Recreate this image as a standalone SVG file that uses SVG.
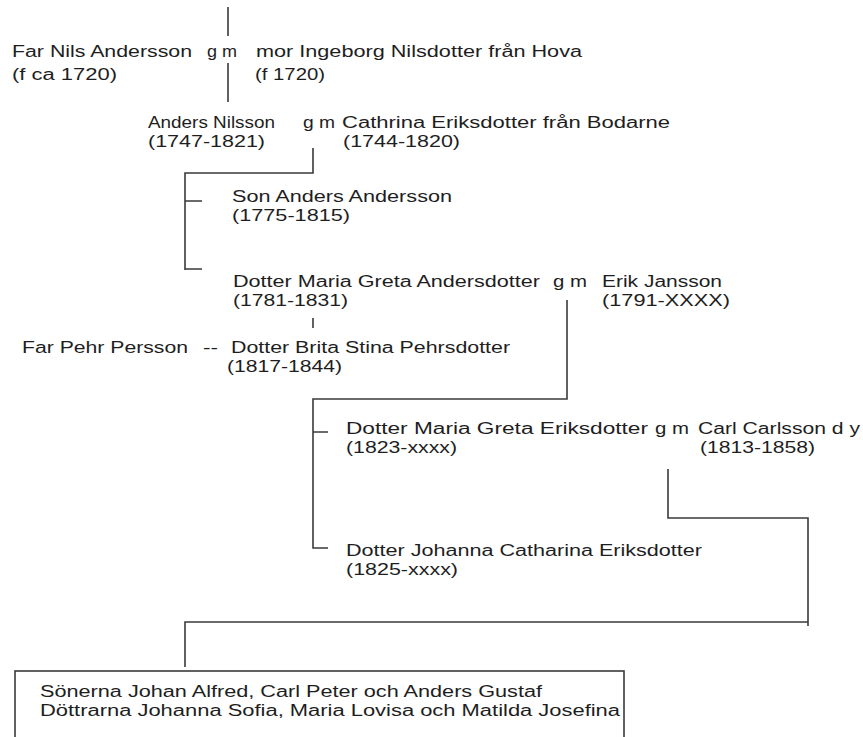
<svg xmlns="http://www.w3.org/2000/svg" width="863" height="737" viewBox="0 0 863 737">
<style>
text { font-family: "Liberation Sans", Arial, sans-serif; font-size: 16px; fill: #1e1e1e; }
.ln { stroke: #3a3a3a; stroke-width: 1.6; fill: none; }
</style>
<rect x="0" y="0" width="863" height="737" fill="#ffffff"/>
<g id="connectors">
  <path class="ln" d="M228 7 V36 M228 63 V102"/>
  <path class="ln" d="M313 148 V173 H185 V270 M185 201 H202 M185 269 H202"/>
  <path class="ln" d="M313 318 V328"/>
  <path class="ln" d="M567 300 V399 H313 V548 H328 M313 432 H328"/>
  <path class="ln" d="M668 469 V518 H808 V626 M808 622 H185 V667"/>
</g>
<g id="gen1">
  <text x="12" y="57" textLength="180" lengthAdjust="spacingAndGlyphs">Far Nils Andersson</text>
  <text x="207" y="57" textLength="30" lengthAdjust="spacingAndGlyphs">g m</text>
  <text x="256" y="57" textLength="326" lengthAdjust="spacingAndGlyphs">mor Ingeborg Nilsdotter från Hova</text>
  <text x="12" y="80" textLength="105" lengthAdjust="spacingAndGlyphs">(f ca 1720)</text>
  <text x="255" y="80" textLength="70" lengthAdjust="spacingAndGlyphs">(f 1720)</text>
</g>
<g id="gen2">
  <text x="148" y="128" textLength="127" lengthAdjust="spacingAndGlyphs">Anders Nilsson</text>
  <text x="303" y="128" textLength="32" lengthAdjust="spacingAndGlyphs">g m</text>
  <text x="342" y="128" textLength="328" lengthAdjust="spacingAndGlyphs">Cathrina Eriksdotter från Bodarne</text>
  <text x="148" y="147" textLength="117" lengthAdjust="spacingAndGlyphs">(1747-1821)</text>
  <text x="343" y="147" textLength="117" lengthAdjust="spacingAndGlyphs">(1744-1820)</text>
</g>
<g id="son-anders">
  <text x="232" y="202" textLength="220" lengthAdjust="spacingAndGlyphs">Son Anders Andersson</text>
  <text x="232" y="221" textLength="118" lengthAdjust="spacingAndGlyphs">(1775-1815)</text>
</g>
<g id="dotter-maria-greta">
  <text x="233" y="287" textLength="307" lengthAdjust="spacingAndGlyphs">Dotter Maria Greta Andersdotter</text>
  <text x="553" y="287" textLength="34" lengthAdjust="spacingAndGlyphs">g m</text>
  <text x="602" y="287" textLength="120" lengthAdjust="spacingAndGlyphs">Erik Jansson</text>
  <text x="233" y="306" textLength="115" lengthAdjust="spacingAndGlyphs">(1781-1831)</text>
  <text x="602" y="306" textLength="128" lengthAdjust="spacingAndGlyphs">(1791-XXXX)</text>
</g>
<g id="brita-stina">
  <text x="22" y="353" textLength="166" lengthAdjust="spacingAndGlyphs">Far Pehr Persson</text>
  <text x="203" y="353" textLength="15" lengthAdjust="spacingAndGlyphs">--</text>
  <text x="231" y="353" textLength="279" lengthAdjust="spacingAndGlyphs">Dotter Brita Stina Pehrsdotter</text>
  <text x="227" y="372" textLength="115" lengthAdjust="spacingAndGlyphs">(1817-1844)</text>
</g>
<g id="dotter-maria-greta-eriksdotter">
  <text x="346" y="434" textLength="302" lengthAdjust="spacingAndGlyphs">Dotter Maria Greta Eriksdotter</text>
  <text x="655" y="434" textLength="34" lengthAdjust="spacingAndGlyphs">g m</text>
  <text x="698" y="434" textLength="162" lengthAdjust="spacingAndGlyphs">Carl Carlsson d y</text>
  <text x="346" y="453" textLength="111" lengthAdjust="spacingAndGlyphs">(1823-xxxx)</text>
  <text x="700" y="453" textLength="115" lengthAdjust="spacingAndGlyphs">(1813-1858)</text>
</g>
<g id="dotter-johanna">
  <text x="346" y="556" textLength="356" lengthAdjust="spacingAndGlyphs">Dotter Johanna Catharina Eriksdotter</text>
  <text x="346" y="575" textLength="112" lengthAdjust="spacingAndGlyphs">(1825-xxxx)</text>
</g>
<g id="barn">
  <rect class="ln" x="15" y="671" width="609" height="80"/>
  <text x="40" y="697" textLength="502" lengthAdjust="spacingAndGlyphs">Sönerna Johan Alfred, Carl Peter och Anders Gustaf</text>
  <text x="40" y="716" textLength="580" lengthAdjust="spacingAndGlyphs">Döttrarna Johanna Sofia, Maria Lovisa och Matilda Josefina</text>
</g>
</svg>
